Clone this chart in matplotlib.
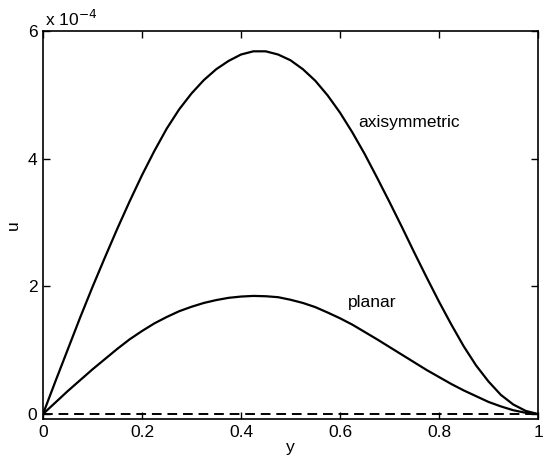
import matplotlib
matplotlib.use("Agg")
import matplotlib.pyplot as plt
from matplotlib.ticker import FuncFormatter

# values, u in units of 1e-4
y_axi = [0, 0.025, 0.05, 0.075, 0.1, 0.125, 0.15, 0.175, 0.2, 0.225, 0.25, 0.275,
         0.3, 0.325, 0.35, 0.375, 0.4, 0.425, 0.45, 0.475, 0.5, 0.525, 0.55, 0.575,
         0.6, 0.625, 0.65, 0.675, 0.7, 0.725, 0.75, 0.775, 0.8, 0.825, 0.85, 0.875,
         0.9, 0.925, 0.95, 0.975, 1.0]
u_axi = [0, 0.51, 1.01, 1.51, 1.99, 2.45, 2.90, 3.33, 3.74, 4.12, 4.47, 4.77,
         5.02, 5.23, 5.40, 5.53, 5.63, 5.68, 5.68, 5.63, 5.54, 5.40, 5.22, 4.99,
         4.72, 4.41, 4.07, 3.70, 3.32, 2.93, 2.53, 2.14, 1.76, 1.40, 1.06, 0.76,
         0.51, 0.30, 0.15, 0.05, 0.0]

y_pl = [0, 0.025, 0.05, 0.075, 0.1, 0.125, 0.15, 0.175, 0.2, 0.225, 0.25, 0.275,
        0.3, 0.325, 0.35, 0.375, 0.4, 0.425, 0.45, 0.475, 0.5, 0.525, 0.55, 0.575,
        0.6, 0.625, 0.65, 0.675, 0.7, 0.725, 0.75, 0.775, 0.8, 0.825, 0.85, 0.875,
        0.9, 0.925, 0.95, 0.975, 1.0]
u_pl = [0, 0.18, 0.36, 0.53, 0.70, 0.86, 1.02, 1.17, 1.30, 1.42, 1.52, 1.61,
        1.68, 1.74, 1.785, 1.82, 1.84, 1.85, 1.845, 1.83, 1.79, 1.74, 1.675, 1.59,
        1.50, 1.40, 1.285, 1.17, 1.05, 0.93, 0.81, 0.69, 0.58, 0.47, 0.37, 0.28,
        0.19, 0.12, 0.06, 0.02, 0.0]

scale = 1e-4

plt.rcParams['font.family'] = ['Liberation Sans', 'DejaVu Sans']
plt.rcParams['font.size'] = 12.5

fig = plt.figure(figsize=(5.44, 4.61), dpi=100)
ax = fig.add_axes([0.079, 0.091, 0.91, 0.842])

ax.plot(y_axi, [v * scale for v in u_axi], color='black', lw=1.6)
ax.plot(y_pl, [v * scale for v in u_pl], color='black', lw=1.6)
ax.axhline(0, color='black', lw=1.4, ls=(0, (5, 3)))

ax.text(0.636, 4.56 * scale, 'axisymmetric', va='center', ha='left')
ax.text(0.617, 1.74 * scale, 'planar', va='center', ha='left')

ax.set_xlim(0, 1)
ax.set_ylim(-0.078 * scale, 6 * scale)
ax.set_xticks([0, 0.2, 0.4, 0.6, 0.8, 1])
ax.set_xticklabels(['0', '0.2', '0.4', '0.6', '0.8', '1'])
ax.set_yticks([0, 2 * scale, 4 * scale, 6 * scale])
ax.yaxis.set_major_formatter(FuncFormatter(lambda v, p: '%g' % round(v / scale, 6)))
ax.tick_params(direction='in', top=True, right=True, length=5, width=1, pad=4)
for s in ax.spines.values():
    s.set_linewidth(1.2)

ax.text(0.004, 1.006, r'x 10$^{-4}$', transform=ax.transAxes, ha='left', va='bottom')
ax.set_xlabel('y', labelpad=0)
ax.set_ylabel('u', labelpad=5)

fig.savefig('out.png', dpi=100)
